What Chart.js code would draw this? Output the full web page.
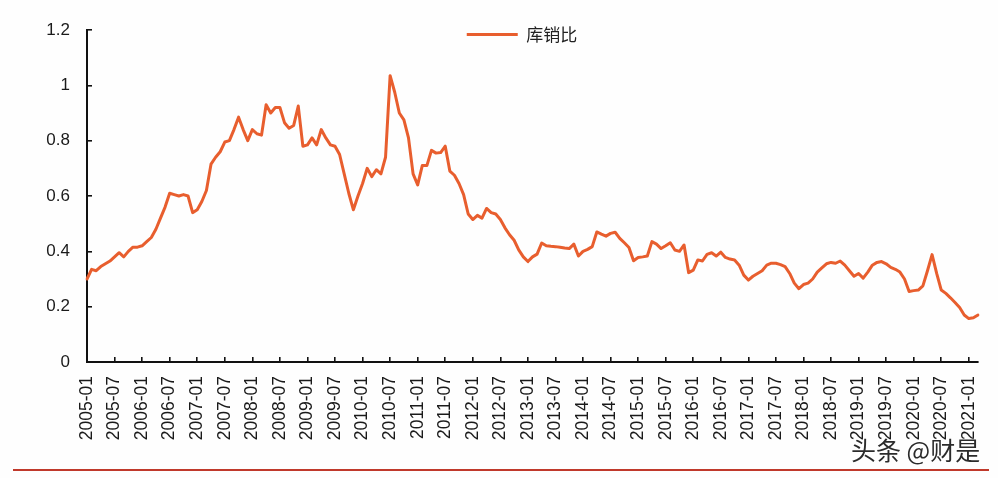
<!DOCTYPE html>
<html>
<head>
<meta charset="utf-8">
<script src="https://cdn.jsdelivr.net/npm/chart.js@4.4.1/dist/chart.umd.min.js"></script>
<style>
  html, body { margin: 0; padding: 0; background: #fefefe; }
  #wrap { position: relative; width: 998px; height: 478px; overflow: hidden; background: #fefefe; }
  #c { position: absolute; left: 0; top: 0; }
  #rule { position: absolute; left: 13px; top: 469px; width: 976px; height: 2px; background: #c0392b; }
  #wm { position: absolute; left: 851px; top: 431px; font-size: 25px; font-family: "Noto Sans CJK SC", sans-serif;
        color: #2b2b2b; white-space: nowrap; text-shadow: 0 0 2px #fff, 0 0 2px #fff; }
</style>
</head>
<body>
<div id="wrap">
  <canvas id="c" width="998" height="478"></canvas>
  <div id="rule"></div>
  <div id="wm">头条 @财是</div>
</div>
<script>
const seriesName = '库销比';

const categories = [
  '2005-01','2005-02','2005-03','2005-04','2005-05','2005-06','2005-07','2005-08','2005-09','2005-10','2005-11','2005-12',
  '2006-01','2006-02','2006-03','2006-04','2006-05','2006-06','2006-07','2006-08','2006-09','2006-10','2006-11','2006-12',
  '2007-01','2007-02','2007-03','2007-04','2007-05','2007-06','2007-07','2007-08','2007-09','2007-10','2007-11','2007-12',
  '2008-01','2008-02','2008-03','2008-04','2008-05','2008-06','2008-07','2008-08','2008-09','2008-10','2008-11','2008-12',
  '2009-01','2009-02','2009-03','2009-04','2009-05','2009-06','2009-07','2009-08','2009-09','2009-10','2009-11','2009-12',
  '2010-01','2010-02','2010-03','2010-04','2010-05','2010-06','2010-07','2010-08','2010-09','2010-10','2010-11','2010-12',
  '2011-01','2011-02','2011-03','2011-04','2011-05','2011-06','2011-07','2011-08','2011-09','2011-10','2011-11','2011-12',
  '2012-01','2012-02','2012-03','2012-04','2012-05','2012-06','2012-07','2012-08','2012-09','2012-10','2012-11','2012-12',
  '2013-01','2013-02','2013-03','2013-04','2013-05','2013-06','2013-07','2013-08','2013-09','2013-10','2013-11','2013-12',
  '2014-01','2014-02','2014-03','2014-04','2014-05','2014-06','2014-07','2014-08','2014-09','2014-10','2014-11','2014-12',
  '2015-01','2015-02','2015-03','2015-04','2015-05','2015-06','2015-07','2015-08','2015-09','2015-10','2015-11','2015-12',
  '2016-01','2016-02','2016-03','2016-04','2016-05','2016-06','2016-07','2016-08','2016-09','2016-10','2016-11','2016-12',
  '2017-01','2017-02','2017-03','2017-04','2017-05','2017-06','2017-07','2017-08','2017-09','2017-10','2017-11','2017-12',
  '2018-01','2018-02','2018-03','2018-04','2018-05','2018-06','2018-07','2018-08','2018-09','2018-10','2018-11','2018-12',
  '2019-01','2019-02','2019-03','2019-04','2019-05','2019-06','2019-07','2019-08','2019-09','2019-10','2019-11','2019-12',
  '2020-01','2020-02','2020-03','2020-04','2020-05','2020-06','2020-07','2020-08','2020-09','2020-10','2020-11','2020-12',
  '2021-01','2021-02','2021-03'
];

const v2005 = [0.30, 0.335, 0.33, 0.345, 0.355, 0.365, 0.38, 0.395, 0.38, 0.40, 0.415, 0.415];
const v2006 = [0.42, 0.435, 0.45, 0.48, 0.52, 0.56, 0.61, 0.605, 0.60, 0.605, 0.60, 0.54];
const v2007 = [0.55, 0.58, 0.62, 0.715, 0.74, 0.76, 0.795, 0.80, 0.84, 0.885, 0.84, 0.80];
const v2008 = [0.84, 0.825, 0.82, 0.93, 0.90, 0.92, 0.92, 0.865, 0.845, 0.855, 0.925, 0.78];
const v2009 = [0.785, 0.81, 0.785, 0.84, 0.81, 0.785, 0.78, 0.75, 0.68, 0.61, 0.55, 0.60];
const v2010 = [0.645, 0.70, 0.67, 0.695, 0.68, 0.74, 1.035, 0.975, 0.90, 0.875, 0.81, 0.68];
const v2011 = [0.64, 0.71, 0.71, 0.765, 0.755, 0.757, 0.78, 0.69, 0.675, 0.645, 0.605, 0.535];
const v2012 = [0.515, 0.53, 0.52, 0.555, 0.54, 0.535, 0.515, 0.485, 0.46, 0.44, 0.405, 0.38];
const v2013 = [0.363, 0.38, 0.39, 0.43, 0.42, 0.418, 0.417, 0.415, 0.412, 0.41, 0.426, 0.383];
const v2014 = [0.40, 0.407, 0.417, 0.47, 0.462, 0.455, 0.465, 0.469, 0.447, 0.431, 0.414, 0.366];
const v2015 = [0.378, 0.38, 0.383, 0.435, 0.426, 0.41, 0.42, 0.431, 0.405, 0.40, 0.423, 0.323];
const v2016 = [0.332, 0.369, 0.365, 0.389, 0.395, 0.383, 0.397, 0.378, 0.372, 0.369, 0.35, 0.314];
const v2017 = [0.296, 0.31, 0.32, 0.33, 0.35, 0.357, 0.357, 0.352, 0.345, 0.32, 0.285, 0.265];
const v2018 = [0.28, 0.285, 0.30, 0.325, 0.34, 0.355, 0.36, 0.357, 0.365, 0.35, 0.33, 0.31];
const v2019 = [0.32, 0.303, 0.325, 0.35, 0.36, 0.363, 0.355, 0.342, 0.335, 0.325, 0.30, 0.255];
const v2020 = [0.258, 0.26, 0.275, 0.33, 0.388, 0.32, 0.26, 0.248, 0.232, 0.215, 0.197, 0.17];
const v2021 = [0.157, 0.16, 0.17];

const xTickLabels = [
  '2005-01','2005-07','2006-01','2006-07','2007-01','2007-07','2008-01','2008-07',
  '2009-01','2009-07','2010-01','2010-07','2011-01','2011-07','2012-01','2012-07',
  '2013-01','2013-07','2014-01','2014-07','2015-01','2015-07','2016-01','2016-07',
  '2017-01','2017-07','2018-01','2018-07','2019-01','2019-07','2020-01','2020-07','2021-01'
];
const yTicks = [0, 0.2, 0.4, 0.6, 0.8, 1, 1.2];
const yTickLabels = ['0', '0.2', '0.4', '0.6', '0.8', '1', '1.2'];

const values = [].concat(v2005, v2006, v2007, v2008, v2009, v2010, v2011, v2012,
                         v2013, v2014, v2015, v2016, v2017, v2018, v2019, v2020, v2021);

const lineColor = '#e85e2e';
const axisColor = '#111111';
const textColor = '#1a1a1a';
const latin = '"Liberation Sans", Arial, sans-serif';

// let the legend row overlap the top of the plot (as in the original) without being clipped
const legendOverlap = {
  id: 'legendOverlap',
  afterLayout(chart) {
    const lg = chart.legend;
    if (lg) { lg.height = 52; lg.bottom = lg.top + 52; }
  }
};

new Chart(document.getElementById('c'), {
  type: 'line',
  data: {
    labels: categories,
    datasets: [{
      label: seriesName,
      data: values,
      borderColor: lineColor,
      backgroundColor: lineColor,
      borderWidth: 3,
      pointRadius: 0,
      pointHoverRadius: 0,
      tension: 0,
      fill: false,
      borderJoinStyle: 'round',
      borderCapStyle: 'round'
    }]
  },
  plugins: [legendOverlap],
  options: {
    responsive: false,
    animation: false,
    events: [],
    layout: { padding: { left: 41, right: -5, top: 0, bottom: 16 } },
    plugins: {
      tooltip: { enabled: false },
      legend: {
        display: true,
        position: 'top',
        maxHeight: 30,
        labels: {
          usePointStyle: true,
          pointStyle: 'line',
          pointStyleWidth: 51,
          padding: 26,
          color: '#222222',
          font: { family: '"Noto Sans CJK SC", "Noto Sans", sans-serif', size: 17 }
        }
      }
    },
    scales: {
      x: {
        type: 'category',
        offset: false,
        border: { display: true, color: axisColor, width: 2 },
        grid: {
          display: true,
          drawOnChartArea: false,
          drawTicks: true,
          tickLength: -5,
          lineWidth: 1.6,
          color: (c) => (c.index !== undefined && xTickLabels.includes(categories[c.index])) ? axisColor : 'rgba(0,0,0,0)'
        },
        ticks: {
          autoSkip: false,
          minRotation: 90,
          maxRotation: 90,
          padding: 19,
          color: textColor,
          font: { family: latin, size: 17.5 },
          callback: function (v) {
            const l = this.getLabelForValue(v);
            return xTickLabels.includes(l) ? l : '';
          }
        },
        afterFit: (s) => { s.height = 100; s.paddingLeft = 0; s.paddingRight = 20; }
      },
      y: {
        min: 0,
        max: 1.2,
        border: { display: true, color: axisColor, width: 2 },
        grid: {
          display: true,
          drawOnChartArea: false,
          drawTicks: true,
          tickLength: -5,
          lineWidth: 1.6,
          color: axisColor
        },
        afterBuildTicks: (s) => { s.ticks = yTicks.map((value) => ({ value })); },
        ticks: {
          padding: 22,
          color: textColor,
          font: { family: latin, size: 17 },
          callback: (v) => {
            const i = yTicks.findIndex((t) => Math.abs(t - v) < 1e-9);
            return i >= 0 ? yTickLabels[i] : '';
          }
        },
        afterFit: (s) => { s.width = 46; s.paddingTop = 0; s.paddingBottom = 0; }
      }
    }
  }
});
</script>
</body>
</html>
